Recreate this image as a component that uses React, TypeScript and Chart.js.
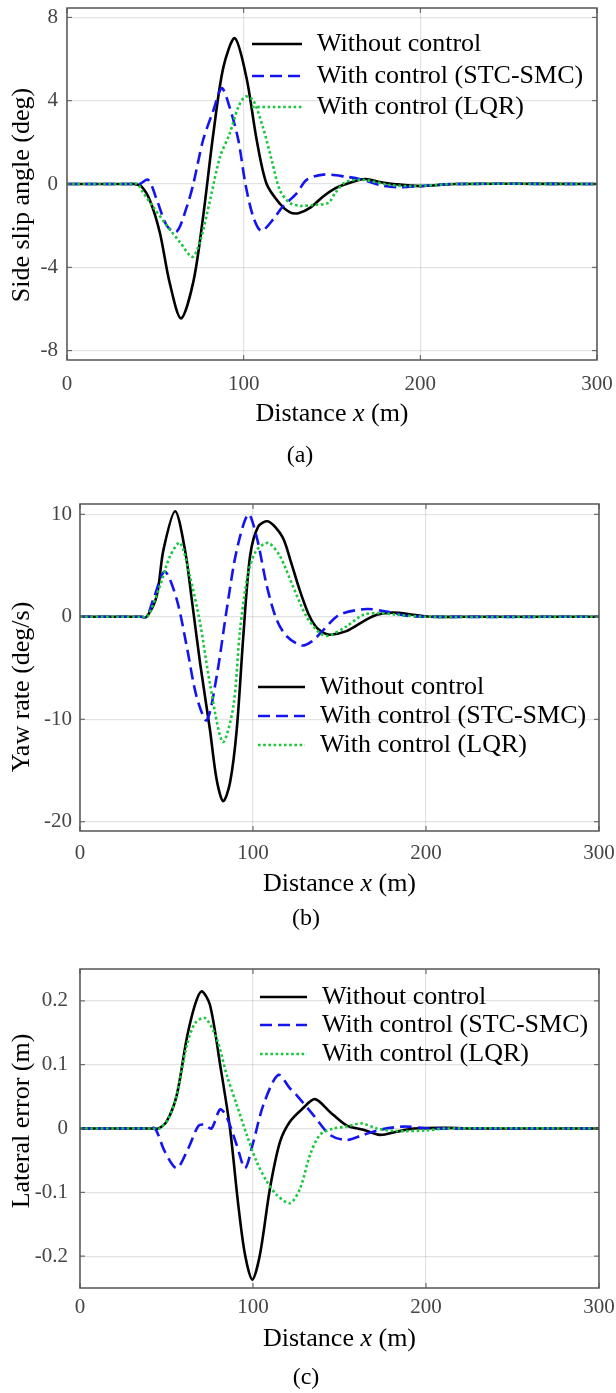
import React, { useEffect, useRef } from 'react';
import { Chart, registerables } from 'chart.js';

Chart.register(...registerables);

const FONT = "'Liberation Serif', 'Times New Roman', Times, serif";

// ---------- shared ----------
const SERIES_LABELS = ['Without control', 'With control (STC-SMC)', 'With control (LQR)'];
const X_TICKS = [0, 100, 200, 300];
const X_TICK_LABELS = ['0', '100', '200', '300'];

// ---------- panel (a): side slip angle ----------
const A_Y_TICKS = [-8, -4, 0, 4, 8];
const A_Y_LABELS = ['-8', '-4', '0', '4', '8'];
const A_BLACK_X = [0, 20, 34, 38, 42, 47, 52.6, 58, 64.5, 71.5, 77, 82.8, 88.5, 95, 101.6, 107.4, 113, 120.5, 126, 131, 137.5, 145, 152, 158, 168.6, 177, 185, 200, 220, 300];
const A_BLACK_Y = [0, 0, 0, 0, -0.1, -0.8, -2.35, -4.7, -6.45, -4.7, -1.6, 2.4, 5.6, 7.0, 5.1, 2.1, 0.0, -0.95, -1.35, -1.4, -1.15, -0.6, -0.2, 0.0, 0.24, 0.1, 0.0, -0.1, 0, 0];
const A_BLUE_X = [0, 20, 37, 41, 46, 51, 56.5, 62, 67.8, 71.5, 77, 82.7, 87.6, 92, 97, 101, 105.5, 110, 116.7, 122, 130, 135.6, 145, 158, 167.5, 177, 186.5, 200, 220, 300];
const A_BLUE_Y = [0, 0, 0, 0, 0.2, -0.8, -2.0, -2.3, -1.1, 0, 2.1, 3.5, 4.6, 3.7, 2.1, 0, -1.6, -2.25, -1.7, -1.1, -0.45, 0.2, 0.45, 0.35, 0.2, -0.05, -0.15, -0.1, 0, 0];
const A_GREEN_X = [0, 20, 36, 40, 43, 48.8, 56.5, 64, 71, 75.5, 81, 86.6, 92, 97, 101, 105.5, 111, 116, 120.5, 126, 132, 140, 148, 152, 158, 167.5, 183, 196, 220, 300];
const A_GREEN_Y = [0, 0, 0, 0, -0.4, -1.1, -2.0, -2.8, -3.5, -2.7, -0.77, 1.3, 2.4, 3.7, 4.2, 4.0, 2.7, 1.1, -0.3, -0.9, -1.05, -1.0, -0.9, -0.4, 0.1, 0.2, -0.05, -0.1, 0, 0];

// ---------- panel (b): yaw rate ----------
const B_Y_TICKS = [-20, -10, 0, 10];
const B_Y_LABELS = ['-20', '-10', '0', '10'];
const B_BLACK_X = [0, 20, 35, 38.5, 44.3, 48.2, 55, 60.7, 64.6, 69.4, 75.1, 79, 82.8, 86.7, 90.6, 94.4, 98.3, 103, 108.8, 117, 122, 127, 132, 136, 140, 144.5, 154, 163.8, 171.5, 181, 192.7, 202, 220, 300];
const B_BLACK_Y = [0, 0, 0, 0, 2.0, 6.5, 10.3, 6.5, 1.7, -4.5, -11.0, -15.9, -18.0, -16.2, -11.0, -1.9, 5.9, 8.8, 9.3, 7.8, 5.3, 2.6, 0.3, -0.9, -1.5, -1.75, -1.4, -0.45, 0.2, 0.4, 0.2, 0, 0, 0];
const B_BLUE_X = [0, 20, 35, 38.5, 42.4, 49, 55.9, 61.7, 67.4, 73.2, 79, 84.8, 90.6, 97.3, 102.1, 108, 113.7, 119.5, 128, 134, 140.6, 150, 165.7, 177, 188.8, 200, 300];
const B_BLUE_Y = [0, 0, 0, 0, 1.7, 4.4, 1.7, -2.9, -7.8, -10.1, -5.8, 0.7, 6.5, 10.0, 7.8, 3.0, -0.3, -1.9, -2.8, -2.4, -1.3, 0.2, 0.75, 0.5, 0.1, 0, 0];
const B_GREEN_X = [0, 20, 35.5, 39, 46.2, 52, 57.8, 63.6, 69.4, 75.1, 82.5, 88.6, 92.5, 97.3, 102.1, 108.8, 115.6, 123, 131, 138.7, 143.5, 154, 163.8, 173.4, 183, 200, 300];
const B_GREEN_Y = [0, 0, 0, 0, 3.0, 5.9, 7.2, 3.9, -0.6, -6.5, -12.2, -8.8, -1.3, 4.3, 6.5, 7.2, 5.9, 3.0, 0, -1.6, -1.85, -0.95, 0.2, 0.35, 0.2, 0, 0];

// ---------- panel (c): lateral error ----------
const C_Y_TICKS = [-0.2, -0.1, 0, 0.1, 0.2];
const C_Y_LABELS = ['-0.2', '-0.1', '0', '0.1', '0.2'];
const C_BLACK_X = [0, 20, 41, 45.3, 50.1, 55.9, 61.7, 66.5, 70.3, 75.1, 81, 86.7, 91.5, 95.4, 99.6, 104, 109.8, 115.6, 121.4, 129, 135.8, 144.5, 154, 163.8, 173.4, 183, 193, 212, 230, 300];
const C_BLACK_Y = [0, 0, 0, 0, 0.011, 0.052, 0.141, 0.194, 0.215, 0.194, 0.1, 0, -0.12, -0.198, -0.237, -0.198, -0.094, -0.021, 0.011, 0.032, 0.046, 0.026, 0.005, -0.002, -0.01, -0.005, 0, 0.001, 0, 0];
const C_BLUE_X = [0, 20, 39.5, 43.4, 49, 55.9, 62.6, 68.4, 72, 76, 81, 84.8, 90.6, 95.4, 100.2, 106, 114.6, 121.4, 125.3, 134.9, 144.5, 154, 163.8, 173.4, 187, 202, 230, 300];
const C_BLUE_Y = [0, 0, 0, 0, -0.036, -0.062, -0.031, 0.004, 0.006, 0.0, 0.03, 0.018, -0.026, -0.062, -0.021, 0.037, 0.084, 0.063, 0.052, 0.021, -0.01, -0.018, -0.01, -0.002, 0.003, 0, 0, 0];
const C_GREEN_X = [0, 20, 42, 46, 51, 55.9, 61.7, 66.5, 72.3, 79, 84.8, 90.6, 96.4, 102.1, 108, 113.7, 121.4, 127.2, 132.9, 138.7, 146.4, 154, 162.8, 171.5, 183, 200, 212, 300];
const C_GREEN_Y = [0, 0, 0, 0, 0.015, 0.052, 0.13, 0.165, 0.173, 0.141, 0.084, 0.037, -0.01, -0.052, -0.083, -0.104, -0.117, -0.094, -0.042, -0.01, 0, 0.003, 0.008, 0, -0.004, -0.003, 0, 0];

// ---------- styles ----------
const COLORS = ['#000000', '#1414f0', '#19c83c'];
const DASHES: number[][] = [[], [12, 6], [2.6, 2.6]];
const LINE_W = 2.6;
const AXIS_COLOR = '#555555';
const GRID_COLOR = 'rgba(0,0,0,0.11)';
const TICK_COLOR = '#454545';

type Layout = {
  top: number; height: number; left: number; right: number; plotTop: number; plotBottom: number;
  yMin: number; yMax: number; yTicks: number[]; yLabels: string[]; yPad: number; xPad: number;
  yTitle: string; yTitleX: number; yTitleY: number; xTitleBaseline: number;
  caption: string; captionX: number; captionY: number;
  legendRows: number[]; legendX0: number; legendX1: number; legendTextX: number;
  series: { xs: number[]; ys: number[] }[];
};

const PANELS: Layout[] = [
  {
    top: 0, height: 470, left: 67, right: 597, plotTop: 8, plotBottom: 360,
    yMin: -8.45, yMax: 8.45, yTicks: A_Y_TICKS, yLabels: A_Y_LABELS, yPad: 9, xPad: 12,
    yTitle: 'Side slip angle (deg)', yTitleX: 22, yTitleY: 195, xTitleBaseline: 421,
    caption: '(a)', captionX: 300, captionY: 456,
    legendRows: [44, 76, 107], legendX0: 252, legendX1: 302, legendTextX: 317,
    series: [{ xs: A_BLACK_X, ys: A_BLACK_Y }, { xs: A_BLUE_X, ys: A_BLUE_Y }, { xs: A_GREEN_X, ys: A_GREEN_Y }],
  },
  {
    top: 470, height: 465, left: 80, right: 599, plotTop: 34, plotBottom: 361,
    yMin: -20.9, yMax: 11, yTicks: B_Y_TICKS, yLabels: B_Y_LABELS, yPad: 8, xPad: 10,
    yTitle: 'Yaw rate (deg/s)', yTitleX: 22, yTitleY: 217, xTitleBaseline: 421,
    caption: '(b)', captionX: 306, captionY: 449,
    legendRows: [217, 246, 275], legendX0: 258, legendX1: 305, legendTextX: 320,
    series: [{ xs: B_BLACK_X, ys: B_BLACK_Y }, { xs: B_BLUE_X, ys: B_BLUE_Y }, { xs: B_GREEN_X, ys: B_GREEN_Y }],
  },
  {
    top: 935, height: 458, left: 80, right: 599, plotTop: 34, plotBottom: 353,
    yMin: -0.25, yMax: 0.25, yTicks: C_Y_TICKS, yLabels: C_Y_LABELS, yPad: 12, xPad: 7,
    yTitle: 'Lateral error (m)', yTitleX: 22, yTitleY: 186, xTitleBaseline: 411,
    caption: '(c)', captionX: 306, captionY: 443,
    legendRows: [62, 90, 119], legendX0: 260, legendX1: 307, legendTextX: 322,
    series: [{ xs: C_BLACK_X, ys: C_BLACK_Y }, { xs: C_BLUE_X, ys: C_BLUE_Y }, { xs: C_GREEN_X, ys: C_GREEN_Y }],
  },
];

function decorPlugin(p: Layout) {
  return {
    id: 'decor',
    afterDraw(chart: any) {
      const { ctx, chartArea: a, scales } = chart;
      const xs = scales.x;
      const ys = scales.y;
      ctx.save();
      // inward tick marks on all four sides
      ctx.strokeStyle = AXIS_COLOR;
      ctx.lineWidth = 1;
      ctx.setLineDash([]);
      ctx.beginPath();
      for (const v of X_TICKS) {
        const px = xs.getPixelForValue(v);
        ctx.moveTo(px, a.bottom); ctx.lineTo(px, a.bottom - 5);
        ctx.moveTo(px, a.top); ctx.lineTo(px, a.top + 5);
      }
      for (const v of p.yTicks) {
        const py = ys.getPixelForValue(v);
        ctx.moveTo(a.left, py); ctx.lineTo(a.left + 5, py);
        ctx.moveTo(a.right, py); ctx.lineTo(a.right - 5, py);
      }
      ctx.stroke();
      // box
      ctx.lineWidth = 1.5;
      ctx.strokeRect(a.left, a.top, a.right - a.left, a.bottom - a.top);

      // y title
      ctx.fillStyle = '#000';
      ctx.font = `26px ${FONT}`;
      ctx.textAlign = 'center';
      ctx.textBaseline = 'middle';
      ctx.save();
      ctx.translate(p.yTitleX, p.yTitleY);
      ctx.rotate(-Math.PI / 2);
      ctx.fillText(p.yTitle, 0, 0);
      ctx.restore();

      // x title with italic x
      const parts = [
        { t: 'Distance ', f: `26px ${FONT}` },
        { t: 'x', f: `italic 26px ${FONT}` },
        { t: ' (m)', f: `26px ${FONT}` },
      ];
      let total = 0;
      const widths = parts.map((pt) => { ctx.font = pt.f; const w = ctx.measureText(pt.t).width; total += w; return w; });
      let cx = (a.left + a.right) / 2 - total / 2;
      ctx.textAlign = 'left';
      ctx.textBaseline = 'alphabetic';
      parts.forEach((pt, i) => { ctx.font = pt.f; ctx.fillText(pt.t, cx, p.xTitleBaseline); cx += widths[i]; });

      // caption
      ctx.font = `24px ${FONT}`;
      ctx.textAlign = 'center';
      ctx.textBaseline = 'middle';
      ctx.fillText(p.caption, p.captionX, p.captionY);

      // legend (no box)
      SERIES_LABELS.forEach((lab, i) => {
        const y = p.legendRows[i];
        ctx.strokeStyle = COLORS[i];
        ctx.lineWidth = LINE_W;
        ctx.setLineDash(DASHES[i]);
        ctx.beginPath();
        ctx.moveTo(p.legendX0, y);
        ctx.lineTo(p.legendX1, y);
        ctx.stroke();
        ctx.setLineDash([]);
        ctx.fillStyle = '#000';
        ctx.font = `26px ${FONT}`;
        ctx.textAlign = 'left';
        ctx.textBaseline = 'middle';
        ctx.fillText(lab, p.legendTextX, y);
      });
      ctx.restore();
    },
  };
}

function Panel({ p }: { p: Layout }) {
  const ref = useRef<HTMLCanvasElement | null>(null);
  useEffect(() => {
    if (!ref.current) return;
    const datasets = p.series.map((s, i) => ({
      label: SERIES_LABELS[i],
      data: s.xs.map((x, j) => ({ x, y: s.ys[j] })),
      borderColor: COLORS[i],
      backgroundColor: COLORS[i],
      borderWidth: LINE_W,
      borderDash: DASHES[i],
      pointRadius: 0,
      fill: false,
      tension: 0.3,
      order: 2 - i,
    }));
    const zeroPad = (s: any) => { s.paddingLeft = 0; s.paddingRight = 0; s.paddingTop = 0; s.paddingBottom = 0; };
    const chart = new Chart(ref.current, {
      type: 'line',
      data: { datasets },
      options: {
        animation: false,
        responsive: false,
        maintainAspectRatio: false,
        layout: { padding: { left: 0, top: p.plotTop, right: 616 - p.right, bottom: 0 } },
        plugins: { legend: { display: false }, tooltip: { enabled: false } },
        scales: {
          x: {
            type: 'linear',
            min: 0,
            max: 300,
            afterBuildTicks: (s: any) => { s.ticks = X_TICKS.map((v) => ({ value: v })); },
            afterFit: (s: any) => { s.height = p.height - p.plotBottom; zeroPad(s); },
            grid: { color: GRID_COLOR, lineWidth: 1.2, drawTicks: false },
            border: { display: false },
            ticks: {
              padding: p.xPad,
              color: TICK_COLOR,
              font: { family: FONT, size: 21 },
              maxRotation: 0,
              autoSkip: false,
              callback: (v: any) => X_TICK_LABELS[X_TICKS.indexOf(Number(v))] ?? '',
            },
          },
          y: {
            type: 'linear',
            min: p.yMin,
            max: p.yMax,
            afterBuildTicks: (s: any) => { s.ticks = p.yTicks.map((v) => ({ value: v })); },
            afterFit: (s: any) => { s.width = p.left; zeroPad(s); },
            grid: { color: GRID_COLOR, lineWidth: 1.2, drawTicks: false },
            border: { display: false },
            ticks: {
              padding: p.yPad,
              color: TICK_COLOR,
              font: { family: FONT, size: 21 },
              autoSkip: false,
              callback: (v: any) => {
                const idx = p.yTicks.findIndex((t) => Math.abs(t - Number(v)) < 1e-9);
                return idx >= 0 ? p.yLabels[idx] : '';
              },
            },
          },
        },
      },
      plugins: [decorPlugin(p)],
    });
    return () => chart.destroy();
  }, [p]);
  return (
    <canvas
      ref={ref}
      width={616}
      height={p.height}
      style={{ position: 'absolute', left: 0, top: p.top, width: 616, height: p.height }}
    />
  );
}

export default function App() {
  return (
    <div style={{ position: 'absolute', left: 0, top: 0, width: 616, height: 1393, background: '#ffffff' }}>
      {PANELS.map((p, i) => (
        <Panel key={i} p={p} />
      ))}
    </div>
  );
}
